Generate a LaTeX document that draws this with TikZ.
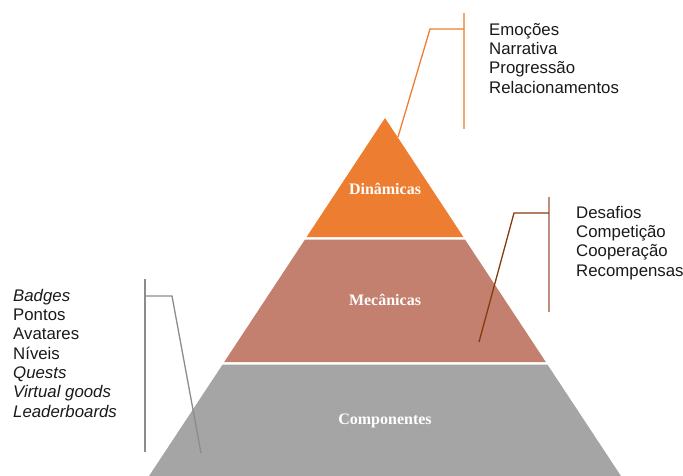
\documentclass[tikz,border=0pt]{standalone}
\usepackage{fontspec}
\setmainfont{Liberation Serif}
\newfontfamily\armfont{Liberation Sans}
\definecolor{dinorange}{HTML}{ED7D31}
\definecolor{mecbrown}{HTML}{C4806E}
\definecolor{compgray}{HTML}{A5A5A5}
\definecolor{linebrown}{HTML}{843C0C}
\definecolor{barbrown}{HTML}{C0907E}
\definecolor{barorange}{HTML}{F4A870}
\definecolor{linegray}{HTML}{8C8C8C}
\begin{document}
\begin{tikzpicture}[x=1pt,y=-1pt,
  tierlabel/.style={text=white,font=\fontsize{16}{19}\selectfont\bfseries},
  itemlist/.style={anchor=north west,inner sep=0pt,align=left,text=black!90,
    font=\armfont\fontsize{16.8}{19.3}\selectfont},
  bar/.style={line width=1.4pt},
  leader/.style={line width=1.3pt}]
\useasboundingbox (0,0) rectangle (683,476);
% pyramid tiers
\fill[dinorange] (385,118) -- (463.4,237) -- (306.6,237) -- cycle;
\fill[mecbrown] (305,239.5) -- (465,239.5) -- (545.8,362) -- (224.2,362) -- cycle;
\fill[compgray] (222.6,364.5) -- (547.4,364.5) -- (621.3,476.5) -- (148.7,476.5) -- cycle;
\node[tierlabel] (din) at (385,189) {Dinâmicas};
\node[tierlabel] (mec) at (385,300) {Mecânicas};
\node[tierlabel] (comp) at (385,421) {Componentes};
% top callout
\coordinate (t0) at (398,137);
\coordinate (t1) at (430,29);
\coordinate (tb1) at (464,13);
\coordinate (tb2) at (464,129);
\draw[bar,barorange] (tb1) -- (tb2);
\draw[leader,dinorange] (t0) -- (t1) -- (t1 -| tb1);
\node[itemlist] (dyn) at (489,23) {Emoções\\Narrativa\\Progressão\\Relacionamentos};
% middle callout
\coordinate (m0) at (479,342);
\coordinate (m1) at (514,213);
\coordinate (mb1) at (549,197);
\coordinate (mb2) at (549,312);
\draw[bar,barbrown] (mb1) -- (mb2);
\draw[leader,linebrown] (m0) -- (m1) -- (m1 -| mb1);
\node[itemlist] (mech) at (576,206) {Desafios\\Competição\\Cooperação\\Recompensas};
% left callout
\coordinate (c0) at (201,453);
\coordinate (c1) at (172,296);
\coordinate (cb1) at (145,279);
\coordinate (cb2) at (145,452);
\draw[bar,linegray] (cb1) -- (cb2);
\draw[leader,linegray] (c0) -- (c1) -- (c1 -| cb1);
\node[itemlist] (compl) at (13,289) {\textit{Badges}\\Pontos\\Avatares\\Níveis\\\textit{Quests}\\\textit{Virtual goods}\\\textit{Leaderboards}};
\end{tikzpicture}
\end{document}
